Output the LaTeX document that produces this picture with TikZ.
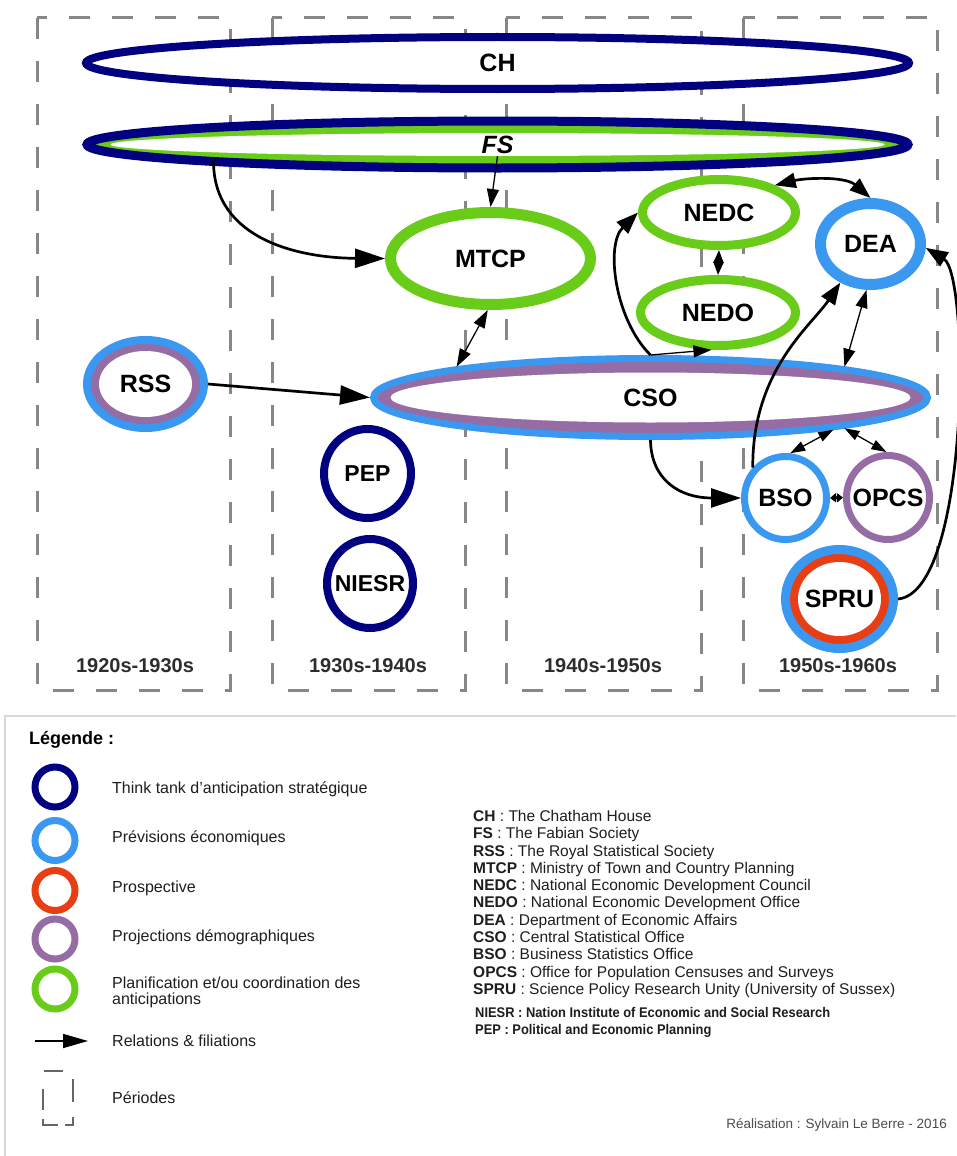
\documentclass[tikz,border=0pt]{standalone}
\usepackage{fontspec}
\setmainfont{Liberation Sans}
\newfontfamily\narrowfont[FakeStretch=0.92]{Liberation Sans}
\usetikzlibrary{shapes.geometric,arrows.meta}
\definecolor{cNavy}{RGB}{0,0,128}
\definecolor{cBlue}{RGB}{58,152,240}
\definecolor{cPurple}{RGB}{150,108,165}
\definecolor{cGreen}{RGB}{104,204,24}
\definecolor{cRed}{RGB}{232,62,22}
\definecolor{cDash}{RGB}{135,135,135}
\definecolor{cText}{RGB}{30,30,30}
\definecolor{cPer}{RGB}{45,45,45}
\definecolor{cSep}{RGB}{215,215,215}
\begin{document}
\begin{tikzpicture}[x=1pt,y=-1pt,
  ring/.style={ellipse, inner sep=0pt, fill=white},
  lab/.style={font=\fontsize{25}{25}\selectfont\bfseries, text=black},
  labsm/.style={font=\fontsize{23}{23}\selectfont\bfseries, text=black},
  labit/.style={font=\fontsize{25}{25}\selectfont\bfseries\itshape, text=black},
  per/.style={font=\fontsize{20}{20}\selectfont\bfseries, text=cPer},
  perbox/.style={draw=cDash, line width=3pt, dash pattern=on 21pt off 22pt},
  thk/.style={line width=2.7pt, -{Triangle[length=30pt,width=19pt]}},
  thkm/.style={line width=2.7pt, -{Triangle[length=22pt,width=16pt]}},
  thkb/.style={line width=2.7pt, {Triangle[length=21pt,width=15pt]}-{Triangle[length=21pt,width=15pt]}},
  thn/.style={line width=1.3pt, -{Triangle[length=18pt,width=12pt]}},
  thnb/.style={line width=1.3pt, {Triangle[length=18pt,width=12pt]}-{Triangle[length=18pt,width=12pt]}},
  thns/.style={line width=1.3pt, {Triangle[length=15pt,width=10pt]}-{Triangle[length=15pt,width=10pt]}},
  midb/.style={line width=2pt, {Triangle[length=13pt,width=10pt]}-{Triangle[length=13pt,width=10pt]}},
  tinyb/.style={line width=3pt, {Triangle[length=6pt,width=9pt]}-{Triangle[length=6pt,width=9pt]}},
  leg/.style={font=\fontsize{16}{16}\selectfont, text=cText, anchor=base west, inner sep=0pt},
  abb/.style={font=\fontsize{15.5}{15.5}\selectfont, text=cText, anchor=base west, inner sep=0pt},
  abn/.style={font=\narrowfont\fontsize{14}{14}\selectfont\bfseries, text=cText, anchor=base west, inner sep=0pt},
  legring/.style={circle, inner sep=0pt, minimum size=40pt, line width=7pt}
]
\useasboundingbox (0,0) rectangle (956,1156);
\fill[white] (0,0) rectangle (956,1156);

% period boxes
\draw[perbox] (37,18) rectangle (230,690);
\draw[perbox] (272,18) rectangle (465,690);
\draw[perbox] (506,18) rectangle (701,690);
\draw[perbox] (743,18) rectangle (937,690);

% organisations
\node[ring, draw=cNavy, line width=8pt, minimum width=823pt, minimum height=52pt, label={[lab]center:CH}] (CH) at (497.5,63) {};

\node[ring, draw=cNavy, line width=9pt, fill=cGreen, minimum width=821pt, minimum height=47pt] (FS) at (497.5,144.5) {};
\node[ring, minimum width=774pt, minimum height=23pt, label={[labit]center:FS}] (FSin) at (FS.center) {};

\node[ring, draw=cGreen, line width=11pt, minimum width=200pt, minimum height=92pt, label={[lab]center:MTCP}] (MTCP) at (490.5,258.5) {};
\node[ring, draw=cGreen, line width=9pt, minimum width=153pt, minimum height=66pt, label={[lab]center:NEDC}] (NEDC) at (719,212.5) {};
\node[ring, draw=cGreen, line width=9pt, minimum width=155pt, minimum height=66pt, label={[lab]center:NEDO}] (NEDO) at (718,312.5) {};
\node[ring, draw=cBlue, line width=11pt, minimum width=100pt, minimum height=81pt, label={[lab]center:DEA}] (DEA) at (870.5,244) {};

\node[ring, draw=cBlue, line width=8pt, fill=cPurple, minimum width=117pt, minimum height=88pt] (RSS) at (145.5,384) {};
\node[ring, minimum width=93pt, minimum height=66pt, label={[lab]center:RSS}] (RSSin) at (RSS.center) {};

\node[ring, draw=cBlue, line width=7pt, fill=cPurple, minimum width=554pt, minimum height=78pt] (CSO) at (650.5,397.5) {};
\node[ring, minimum width=520pt, minimum height=50pt, label={[lab]center:CSO}] (CSOin) at (CSO.center) {};

\node[ring, draw=cNavy, line width=8pt, minimum width=87pt, minimum height=89pt, label={[labsm]center:PEP}] (PEP) at (367.5,473.5) {};
\node[ring, draw=cNavy, line width=8pt, minimum width=86pt, minimum height=89pt, label={[labsm]center:NIESR}] (NIESR) at (370,583.5) {};

\node[ring, draw=cBlue, line width=7pt, minimum width=82pt, minimum height=83pt, label={[lab]center:BSO}] (BSO) at (785.5,498) {};
\node[ring, draw=cPurple, line width=7pt, minimum width=83pt, minimum height=84pt, label={[lab]center:OPCS}] (OPCS) at (888,497.5) {};

\node[ring, draw=cBlue, line width=9pt, fill=cRed, minimum width=108pt, minimum height=99pt] (SPRU) at (839.5,599) {};
\node[ring, minimum width=83pt, minimum height=74pt, label={[lab]center:SPRU}] (SPRUin) at (SPRU.center) {};

% period labels
\node[per] (p1) at (135,665.5) {1920s-1930s};
\node[per] (p2) at (368,666) {1930s-1940s};
\node[per] (p3) at (603,666) {1940s-1950s};
\node[per] (p4) at (838,666) {1950s-1960s};

% relations
\coordinate (fsA) at ([xshift=-284pt,yshift=-16pt]FS.center);
\draw[thk] (fsA) .. controls (213,240) and (300,258) .. (MTCP.west);
\draw[thn] (FSin.south) -- (MTCP.north);
\draw[thnb] (MTCP.-93) -- (CSO.171);
\draw[thk] (RSS.east) -- (CSO.west);
\draw[thkm] (CSO.north) .. controls (615,320) and (605,245) .. (NEDC.west);
\draw[thn] (CSO.north) -- (NEDO.-100);
\draw[midb] (NEDC.south) -- (NEDO.north);
\draw[thkb] (NEDC.26) .. controls (805,178) and (845,176) .. (DEA.north);
\draw[thkm] (BSO.137) .. controls (752,370) and (812,325) .. (DEA.-128);
\draw[thnb] (CSO.9) -- (DEA.-95);
\draw[thns] (CSO.-10) -- (BSO.84);
\draw[thns] (CSO.-9) -- (OPCS.92);
\draw[thk] (CSO.south) .. controls (651,480) and (680,498) .. (BSO.west);
\draw[tinyb] (BSO.east) -- (OPCS.west);
\draw[thkm] (SPRU.east) .. controls (970,592) and (970,275) .. (DEA.-4);

% legend frame
\draw[cSep, line width=1.5pt] (956,716) -- (5,716) -- (5,1156);
\node[font=\fontsize{18}{18}\selectfont\bfseries, text=black, anchor=base west, inner sep=0pt] (legtitle) at (29,744.5) {Légende :};

\node[legring, draw=cNavy] (lg1) at (55,787) {};
\node[legring, draw=cBlue] (lg2) at (55,840.5) {};
\node[legring, draw=cRed] (lg3) at (55,890.5) {};
\node[legring, draw=cPurple] (lg4) at (55,939) {};
\node[legring, draw=cGreen] (lg5) at (55,989) {};

\node[leg] (lt1) at (112,793.5) {Think tank d'anticipation stratégique};
\node[leg] (lt2) at (112,842) {Prévisions économiques};
\node[leg] (lt3) at (112,892) {Prospective};
\node[leg] (lt4) at (112,941.5) {Projections démographiques};
\node[leg, align=left, anchor=north west, font=\fontsize{16}{16}\selectfont] (lt5) at (112,977) {Planification et/ou coordination des\\anticipations};

\coordinate (la1) at (35,1041);
\coordinate (la2) at (88,1041);
\draw[line width=1.5pt, -{Triangle[length=25pt,width=14pt]}] (la1) -- (la2);
\node[leg] (lt6) at (112,1046.5) {Relations \& filiations};

\draw[black!60, line width=1.2pt] (44,1071) -- (63,1071);
\draw[black!60, line width=1.2pt] (43,1089) -- (43,1110);
\draw[black!60, line width=1.2pt] (73,1079) -- (73,1102);
\draw[black!60, line width=1.2pt] (43,1119) -- (43,1125) -- (58,1125);
\draw[black!60, line width=1.2pt] (65,1125) -- (73,1125) -- (73,1117);
\node[leg] (lt7) at (112,1103.5) {Périodes};

% abbreviations
\node[abb] (ab1) at (473,821.5) {\textbf{CH} : The Chatham House};
\node[abb] (ab2) at (473,838.5) {\textbf{FS} : The Fabian Society};
\node[abb] (ab3) at (473,856) {\textbf{RSS} : The Royal Statistical Society};
\node[abb] (ab4) at (473,873.5) {\textbf{MTCP} : Ministry of Town and Country Planning};
\node[abb] (ab5) at (473,890.5) {\textbf{NEDC} : National Economic Development Council};
\node[abb] (ab6) at (473,907.5) {\textbf{NEDO} : National Economic Development Office};
\node[abb] (ab7) at (473,925) {\textbf{DEA} : Department of Economic Affairs};
\node[abb] (ab8) at (473,942) {\textbf{CSO} : Central Statistical Office};
\node[abb] (ab9) at (473,959) {\textbf{BSO} : Business Statistics Office};
\node[abb] (ab10) at (473,977) {\textbf{OPCS} : Office for Population Censuses and Surveys};
\node[abb] (ab11) at (473,994.5) {\textbf{SPRU} : Science Policy Research Unity (University of Sussex)};
\node[abn] (ab12) at (475,1017) {NIESR : Nation Institute of Economic and Social Research};
\node[abn] (ab13) at (475,1034) {PEP : Political and Economic Planning};

\node[font=\fontsize{13.5}{13.5}\selectfont, text=black!70, anchor=base east, inner sep=0pt] (credit) at (947,1128) {Réalisation : Sylvain Le Berre - 2016};
\end{tikzpicture}
\end{document}
